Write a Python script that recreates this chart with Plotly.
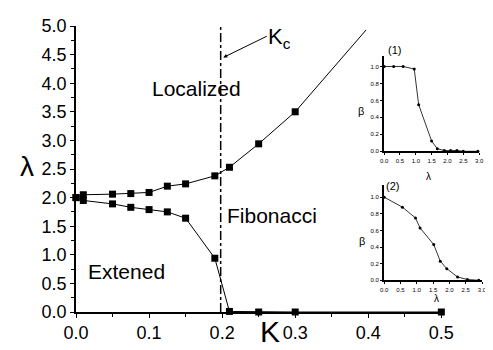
import plotly.graph_objects as go

# ---- data ----
K_upper = [0.0, 0.01, 0.05, 0.075, 0.1, 0.125, 0.15, 0.19, 0.21, 0.25, 0.30]
lam_upper = [2.0, 2.05, 2.06, 2.07, 2.09, 2.20, 2.24, 2.38, 2.53, 2.94, 3.50]
K_upper_tail = [0.30, 0.397]
lam_upper_tail = [3.50, 4.93]
K_lower = [0.0, 0.01, 0.05, 0.075, 0.1, 0.125, 0.15, 0.19, 0.21, 0.25, 0.30, 0.50]
lam_lower = [2.0, 1.95, 1.89, 1.83, 1.79, 1.75, 1.64, 0.94, 0.01, 0.0, 0.0, 0.0]
K_c = 0.198

lam_in1 = [0.0, 0.3, 0.6, 0.95, 1.09, 1.5, 1.68, 1.9, 2.1, 2.3, 2.5, 2.96]
beta_in1 = [1.0, 1.0, 1.0, 0.97, 0.55, 0.12, 0.03, 0.01, 0.01, 0.01, 0.0, 0.0]
lam_in2 = [0.0, 0.56, 0.96, 1.1, 1.52, 1.72, 1.92, 2.25, 2.55, 2.9]
beta_in2 = [1.0, 0.88, 0.75, 0.63, 0.43, 0.23, 0.14, 0.04, 0.01, 0.0]

main_yticks = [0.0, 0.5, 1.0, 1.5, 2.0, 2.5, 3.0, 3.5, 4.0, 4.5, 5.0]
main_xticks = [0.0, 0.1, 0.2, 0.3, 0.4, 0.5]
inset_xticks = [0.0, 0.5, 1.0, 1.5, 2.0, 2.5, 3.0]
inset_yticks = [0.0, 0.2, 0.4, 0.6, 0.8, 1.0]

W, H = 493, 350
ML, MR, MT, MB = 68, 5, 18, 46
PW, PH = W - ML - MR, H - MT - MB


def px(x):
    return (x - ML) / PW


def py(y):
    return (H - MB - y) / PH


FONT = "Liberation Sans, Arial, sans-serif"

fig = go.Figure()

fig.add_trace(go.Scatter(x=K_upper_tail, y=lam_upper_tail, mode="lines",
                         line=dict(color="black", width=1),
                         cliponaxis=False, showlegend=False))
fig.add_trace(go.Scatter(x=K_upper, y=lam_upper, mode="lines+markers",
                         line=dict(color="black", width=1),
                         marker=dict(symbol="square", size=7, color="black"),
                         cliponaxis=False, showlegend=False))
fig.add_trace(go.Scatter(x=K_lower, y=lam_lower, mode="lines+markers",
                         line=dict(color="black", width=1),
                         marker=dict(symbol="square", size=7, color="black"),
                         cliponaxis=False, showlegend=False))

fig.add_trace(go.Scatter(x=lam_in1, y=beta_in1, mode="lines+markers", xaxis="x2", yaxis="y2",
                         line=dict(color="black", width=0.8),
                         marker=dict(size=3, color="black"), cliponaxis=False, showlegend=False))
fig.add_trace(go.Scatter(x=lam_in2, y=beta_in2, mode="lines+markers", xaxis="x3", yaxis="y3",
                         line=dict(color="black", width=0.8),
                         marker=dict(size=3, color="black"), cliponaxis=False, showlegend=False))

fig.add_shape(type="line", xref="x", yref="y", x0=K_c, x1=K_c, y0=0, y1=5,
              line=dict(color="black", width=1.5, dash="dashdot"))

main_axis = dict(showgrid=False, zeroline=False, showline=True, linecolor="black", linewidth=1.5,
                 ticks="outside", ticklen=4, tickwidth=1.2, tickcolor="black",
                 tickfont=dict(family=FONT, size=18, color="black"), tickformat=".1f")

fig.update_layout(
    width=W, height=H, margin=dict(l=ML, r=MR, t=MT, b=MB),
    paper_bgcolor="white", plot_bgcolor="white",
    xaxis=dict(main_axis, domain=[0, px(445)], range=[0, 0.5], tickvals=main_xticks,
               minor=dict(dtick=0.05, ticks="outside", ticklen=3, tickcolor="black")),
    yaxis=dict(main_axis, domain=[0, 1], range=[0, 5], tickvals=main_yticks,
               minor=dict(dtick=0.25, ticks="outside", ticklen=3, tickcolor="black")),
)

inset_axis = dict(showgrid=False, zeroline=False, showline=True, linecolor="black", linewidth=2,
                  ticks="outside", ticklen=2, tickwidth=1, tickcolor="black",
                  tickfont=dict(family=FONT, size=6, color="black"), tickformat=".1f")

fig.update_layout(
    xaxis2=dict(inset_axis, domain=[px(386), px(484)], range=[0, 3], tickvals=inset_xticks,
                anchor="y2"),
    yaxis2=dict(inset_axis, domain=[py(143.3), py(48.3)], range=[0, 1.12], tickvals=inset_yticks,
                anchor="x2"),
    xaxis3=dict(inset_axis, domain=[px(386), px(487)], range=[0, 3], tickvals=inset_xticks,
                anchor="y3"),
    yaxis3=dict(inset_axis, domain=[py(272.3), py(176.7)], range=[0, 1.15], tickvals=inset_yticks,
                anchor="x3"),
)


def txt(text, x, y, size, **kw):
    fig.add_annotation(text=text, xref="paper", yref="paper", x=px(x), y=py(y),
                       showarrow=False, font=dict(family=FONT, size=size, color="black"),
                       xanchor="center", yanchor="middle", **kw)


txt("Localized", 192, 80, 21)
txt("Fibonacci", 270, 207, 21)
txt("Extened", 120, 263, 21)
txt("λ", 17, 158, 28)
txt("K", 268, 323, 30)
txt("K<sub>c</sub>", 278, 30, 22)
txt("(1)", 397, 42, 11)
txt("(2)", 395, 178, 11)
txt("β", 362, 103, 11)
txt("β", 363, 233, 11)
txt("λ", 432, 168, 10)
txt("λ", 440, 290, 10)

# Kc arrow
fig.add_annotation(xref="paper", yref="paper", axref="pixel", ayref="pixel",
                   x=px(220), y=py(49.5), ax=45, ay=-22, text="",
                   showarrow=True, arrowhead=2, arrowsize=0.8, arrowwidth=1, arrowcolor="black")

fig.write_html("out.html")
